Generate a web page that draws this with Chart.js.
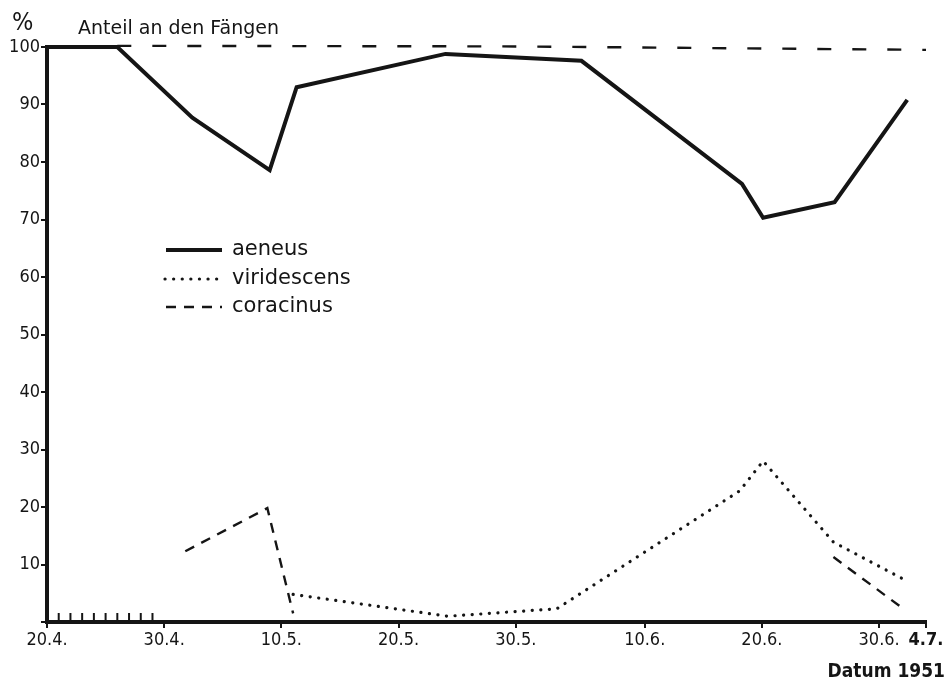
<!DOCTYPE html>
<html>
<head>
<meta charset="utf-8">
<script src="https://cdn.jsdelivr.net/npm/chart.js@4"></script>
<style>
  html, body { margin: 0; padding: 0; background: #fff; }
  #wrap { width: 947px; height: 682px; }
</style>
</head>
<body>
<div id="wrap"><canvas id="c" width="947" height="682"></canvas></div>
<script>
// Days counted from 20 April 1951 (day 0)
const tickDays   = [0, 10, 20, 30, 40, 51, 61, 71, 75];
const tickLabels = ['20.4.', '30.4.', '10.5.', '20.5.', '30.5.', '10.6.', '20.6.', '30.6.', '4.7.'];
const minorTickDays = [1, 2, 3, 4, 5, 6, 7, 8, 9];
const yTickValues = [0, 10, 20, 30, 40, 50, 60, 70, 80, 90, 100];

const seriesNames = ['aeneus', 'viridescens', 'coracinus'];

const aeneusDays   = [0, 6, 12.4, 19, 21.3, 34, 45.6, 59.3, 61.1, 67.2, 73.4];
const aeneusValues = [100, 100, 87.7, 78.6, 93, 98.8, 97.6, 76.2, 70.3, 73, 90.8];

const viridescensDays   = [21, 34.2, 43.5, 59.1, 61.1, 67.1, 73.4];
const viridescensValues = [4.8, 1.0, 2.3, 22.8, 28, 13.9, 7.1];

const coracinusDays   = [11.8, 18.8, 21, 44, 67.1, 73.2];
const coracinusValues = [12.3, 19.8, 1.5, null, 11.3, 2.1];

const totalDays   = [6, 40, 75];
const totalValues = [100.2, 100.1, 99.5];

const INK = '#151515';
const FONT = '"DejaVu Sans Condensed", "DejaVu Sans", sans-serif';

function pts(xs, ys) { return xs.map((x, i) => ({ x: x, y: ys[i] })); }

const titlePlugin = {
  id: 'titles',
  afterDraw(chart) {
    const ctx = chart.ctx;
    ctx.save();
    ctx.setLineDash([]);
    ctx.fillStyle = INK;
    ctx.textBaseline = 'alphabetic';
    ctx.textAlign = 'left';
    ctx.font = '25px ' + FONT;
    ctx.fillText('%', 12, 30);
    ctx.font = '19px "DejaVu Sans", sans-serif';
    ctx.fillText('Anteil an den Fängen', 78, 34);
    ctx.textAlign = 'right';
    ctx.font = 'bold 19px ' + FONT;
    ctx.fillText('Datum 1951', 945, 677);
    ctx.restore();
  }
};

const minorTickPlugin = {
  id: 'minorTicks',
  afterDraw(chart) {
    const xs = chart.scales.x;
    const bottom = chart.chartArea.bottom;
    const ctx = chart.ctx;
    ctx.save();
    ctx.setLineDash([]);
    ctx.lineCap = 'butt';
    ctx.strokeStyle = INK;
    ctx.lineWidth = 2;
    for (const d of minorTickDays) {
      const px = xs.getPixelForValue(d);
      ctx.beginPath();
      ctx.moveTo(px, bottom - 9);
      ctx.lineTo(px, bottom);
      ctx.stroke();
    }
    ctx.restore();
  }
};

const legendPlugin = {
  id: 'customLegend',
  afterDraw(chart) {
    const ctx = chart.ctx;
    const rows = [250, 279, 307];
    ctx.save();
    for (let i = 0; i < 3; i++) {
      const ds = chart.data.datasets[i];
      const y = rows[i];
      ctx.strokeStyle = ds.borderColor;
      ctx.lineWidth = ds.borderWidth;
      ctx.lineCap = ds.borderCapStyle || 'butt';
      ctx.setLineDash(ds.borderDash || []);
      ctx.beginPath();
      ctx.moveTo(i === 1 ? 165 : 166, y);
      ctx.lineTo(222, y);
      ctx.stroke();
      ctx.setLineDash([]);
      ctx.fillStyle = INK;
      ctx.font = '21px "DejaVu Sans", sans-serif';
      ctx.textAlign = 'left';
      ctx.textBaseline = 'middle';
      ctx.fillText(seriesNames[i], 232, y);
    }
    ctx.restore();
  }
};

new Chart(document.getElementById('c'), {
  type: 'scatter',
  data: {
    datasets: [
      {
        label: seriesNames[0],
        data: pts(aeneusDays, aeneusValues),
        showLine: true, borderColor: INK, borderWidth: 4, pointRadius: 0,
        borderJoinStyle: 'miter', clip: false
      },
      {
        label: seriesNames[1],
        data: pts(viridescensDays, viridescensValues),
        showLine: true, borderColor: INK, borderWidth: 3.2, pointRadius: 0,
        borderDash: [0.1, 8.5], borderCapStyle: 'round', clip: false
      },
      {
        label: seriesNames[2],
        data: pts(coracinusDays, coracinusValues),
        showLine: true, borderColor: INK, borderWidth: 2.4, pointRadius: 0,
        borderDash: [10, 8], spanGaps: false, clip: false
      },
      {
        label: 'Summe',
        data: pts(totalDays, totalValues),
        showLine: true, borderColor: INK, borderWidth: 2.4, pointRadius: 0,
        borderDash: [14, 21], clip: false
      }
    ]
  },
  options: {
    responsive: false,
    animation: false,
    layout: { padding: { left: 0, right: 21, top: 47, bottom: 0 } },
    plugins: { legend: { display: false }, tooltip: { enabled: false }, title: { display: false } },
    scales: {
      x: {
        type: 'linear',
        min: 0, max: 75,
        afterBuildTicks(scale) { scale.ticks = tickDays.map(v => ({ value: v })); },
        afterFit(scale) { scale.height = 60; },
        ticks: {
          autoSkip: false, maxRotation: 0, padding: 2, color: INK,
          font: (c) => (c.tick && c.tick.value === 75)
            ? { family: FONT, size: 18, weight: 'bold' }
            : { family: FONT, size: 18 },
          callback: (v) => { const i = tickDays.indexOf(v); return i >= 0 ? tickLabels[i] : ''; }
        },
        grid: { display: true, drawOnChartArea: false, drawTicks: true, tickLength: 6, color: INK, lineWidth: 2 },
        border: { display: true, color: INK, width: 4 }
      },
      y: {
        type: 'linear',
        min: 0, max: 100,
        afterBuildTicks(scale) { scale.ticks = yTickValues.map(v => ({ value: v })); },
        afterFit(scale) { scale.width = 47; },
        ticks: {
          padding: 1, color: INK,
          font: { family: FONT, size: 18 },
          callback: (v) => v === 0 ? '' : String(v)
        },
        grid: { display: true, drawOnChartArea: false, drawTicks: true, tickLength: 6, color: INK, lineWidth: 2 },
        border: { display: true, color: INK, width: 4 }
      }
    }
  },
  plugins: [titlePlugin, minorTickPlugin, legendPlugin]
});
</script>
</body>
</html>
